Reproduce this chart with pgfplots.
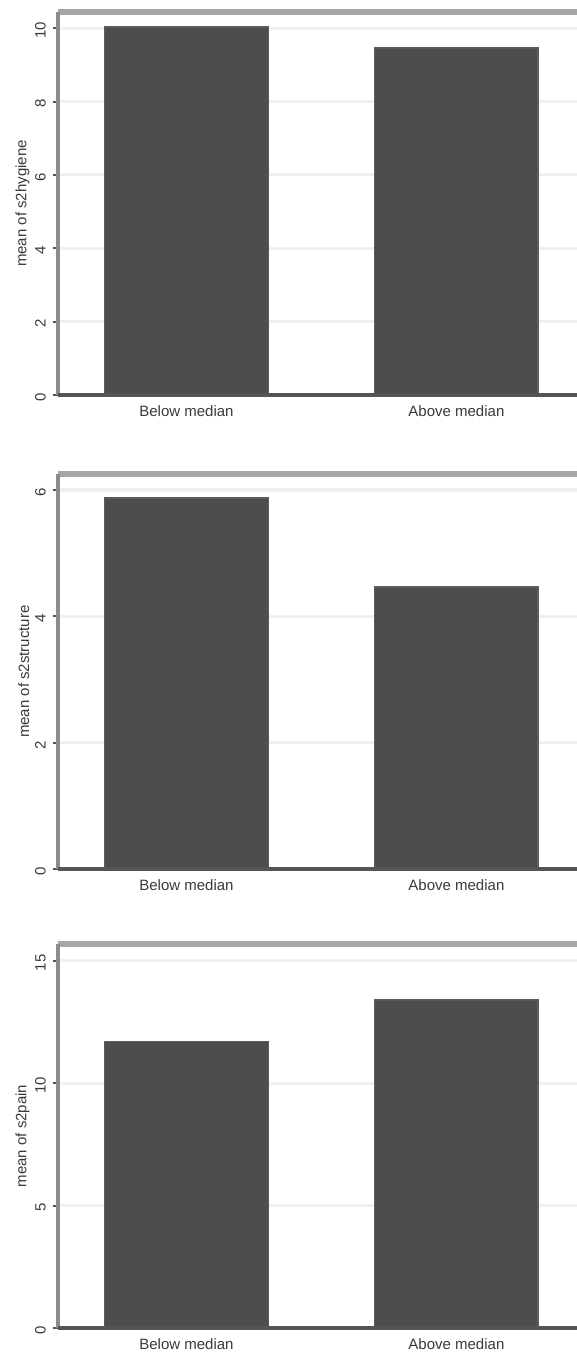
\documentclass[border=0pt]{standalone}
\usepackage{pgfplots}
\pgfplotsset{compat=1.18}
\usepackage{fontspec}
\setmainfont{Liberation Sans}

\definecolor{barfill}{HTML}{4D4D4D}
\definecolor{baredge}{HTML}{5C5C5C}
\definecolor{gridc}{HTML}{F0F0F0}
\definecolor{topline}{HTML}{A6A6A6}
\definecolor{leftline}{HTML}{8C8C8C}
\definecolor{bottomline}{HTML}{555555}
\definecolor{txt}{HTML}{3A3A3A}

% shared look of the three bar panels
\pgfplotsset{
  medianpanel/.style={
    scale only axis,
    anchor=south west,
    width=264pt,
    xmin=-0.476, xmax=1.48,
    ymin=0,
    xtick={0,1},
    xticklabels={Below median, Above median},
    xtick style={draw=none},
    xticklabel style={font=\fontsize{7.5}{9}\selectfont, text=txt, yshift=1pt},
    /pgf/number format/assume math mode=true,
    tick align=outside,
    major tick length=2.6pt,
    ytick style={line width=1pt, color=bottomline},
    yticklabel style={rotate=90, anchor=south, font=\fontsize{7.5}{9}\selectfont, text=txt, xshift=-1pt},
    ylabel style={font=\fontsize{7.5}{9}\selectfont, text=txt},
    ylabel shift=-4pt,
    ymajorgrids,
    grid style={line width=1.6pt, color=gridc},
    axis line style={draw=none},
    ybar,
    bar width=0.607,
    bar shift=0pt,
    clip=false,
    after end axis/.code={
      \draw[line width=2.6pt, color=topline] (rel axis cs:0,1) -- (rel axis cs:1,1);
      \draw[line width=2.4pt, color=leftline] (rel axis cs:0,0) -- (rel axis cs:0,1);
      \draw[line width=2.2pt, color=bottomline] (rel axis cs:0,0) -- (rel axis cs:1,0);
    },
  },
  medianbar/.style={fill=barfill, draw=baredge, line width=0.9pt},
}

\begin{document}
\begin{tikzpicture}
\useasboundingbox (0,0) rectangle (288.5pt,677.5pt);
\clip (0,0) rectangle (288.5pt,677.5pt);

% top panel
\begin{axis}[medianpanel, at={(29pt,480pt)}, height=191.5pt, ymax=10.44,
  ytick={0,2,4,6,8,10}, ylabel={mean of s2hygiene}]
  \addplot[medianbar] coordinates {(0,10.02) (1,9.46)};
\end{axis}

% middle panel
\begin{axis}[medianpanel, at={(29pt,242.85pt)}, height=197.65pt, ymax=6.253,
  ytick={0,2,4,6}, ylabel={mean of s2structure}]
  \addplot[medianbar] coordinates {(0,5.87) (1,4.46)};
\end{axis}

% bottom panel
\begin{axis}[medianpanel, at={(29pt,13.5pt)}, height=192pt, ymax=15.69,
  ytick={0,5,10,15}, ylabel={mean of s2pain}]
  \addplot[medianbar] coordinates {(0,11.71) (1,13.40)};
\end{axis}
\end{tikzpicture}
\end{document}
